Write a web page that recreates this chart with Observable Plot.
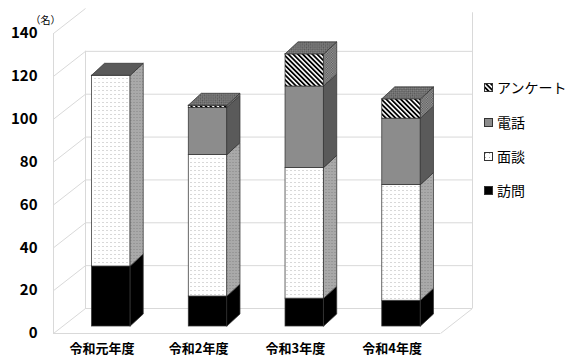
<!DOCTYPE html>
<html><head><meta charset="utf-8">
<script src="https://cdn.jsdelivr.net/npm/d3@7"></script>
<script src="https://cdn.jsdelivr.net/npm/@observablehq/plot@0.6"></script>
<style>
body{margin:0;background:#fff;}
#wrap{position:relative;width:566px;height:356px;overflow:hidden;font-family:"Noto Sans CJK JP","Noto Sans",sans-serif;}
#legend{position:absolute;left:484px;top:0;width:82px;height:356px;}
.item{position:absolute;left:0;height:20px;display:flex;align-items:center;font-size:14px;color:#000;white-space:nowrap;}
.item svg{margin-right:4px;flex:none;}
</style></head><body>
<svg width="0" height="0" style="position:absolute">
<defs>
<pattern id="dots" width="4" height="4" patternUnits="userSpaceOnUse"><rect width="4" height="4" fill="#fff"/><rect x="1" y="1" width="1" height="1" fill="#b0b0b0"/></pattern>
<pattern id="dotsSide" width="3" height="3" patternUnits="userSpaceOnUse"><rect width="3" height="3" fill="#a9a9a9"/><rect x="1" y="1" width="1" height="1" fill="#858585"/></pattern>
<pattern id="hatch" width="3.4" height="3.4" patternUnits="userSpaceOnUse" patternTransform="rotate(-45)"><rect width="3.4" height="3.4" fill="#fff"/><rect width="1.8" height="3.4" fill="#000"/></pattern>
<pattern id="check" width="3" height="3" patternUnits="userSpaceOnUse" patternTransform="rotate(45)"><rect width="3" height="3" fill="#8a8a8a"/><rect width="1.5" height="1.5" fill="#555"/><rect x="1.5" y="1.5" width="1.5" height="1.5" fill="#555"/></pattern>
<pattern id="checkSide" width="2.5" height="2.5" patternUnits="userSpaceOnUse"><rect width="2.5" height="2.5" fill="#9a9a9a"/><rect width="1.25" height="1.25" fill="#5a5a5a"/><rect x="1.25" y="1.25" width="1.25" height="1.25" fill="#5a5a5a"/></pattern>
</defs></svg>
<div id="wrap"><div id="legend"></div></div>
<script>
const categories = ["令和元年度", "令和2年度", "令和3年度", "令和4年度"];
const seriesNames = ["訪問", "面談", "電話", "アンケート"];
const houmon = [28, 14, 13, 12];
const mendan = [89, 66, 61, 54];
const denwa = [0, 22, 38, 31];
const anketo = [0, 1, 15, 9];
const yTicks = [0, 20, 40, 60, 80, 100, 120, 140];
const unitLabel = "（名）";

const seriesVals = [houmon, mendan, denwa, anketo];
const frontFill = ["#000000", "url(#dots)", "#8c8c8c", "url(#hatch)"];
const sideFill = ["#000000", "url(#dotsSide)", "#5a5a5a", "url(#checkSide)"];
const legendFill = ["#000000", "url(#dots)", "#8c8c8c", "url(#hatch)"];

// layout (pixels)
const X0 = 53, X1 = 440, Y0 = 333, Y1 = 33;
const kx = (X1 - X0) / 4, ky = (Y0 - Y1) / 140;
const BX = 9.5, BY = -7;          // bar plane offset
const WX = 32, WY = -25;          // back wall offset
const hw = 0.2, ddx = 13 / kx, ddy = 12 / ky; // bar half width, bar depth

const segs = [];
categories.forEach((c, i) => {
  let base = 0;
  seriesVals.forEach((vals, s) => {
    const v = vals[i];
    if (v > 0) segs.push({id: i + "-" + s, i, s, y1: base, y2: base + v});
    base += v;
  });
});
const sidePts = segs.flatMap(d => [
  {id: d.id, s: d.s, x: d.i + hw, lo: d.y1, hi: d.y2},
  {id: d.id, s: d.s, x: d.i + hw + ddx, lo: d.y1 + ddy, hi: d.y2 + ddy}
]);
const totals = categories.map((c, i) => seriesVals.reduce((a, v) => a + v[i], 0));
const topMarks = categories.map((c, i) => {
  const T = totals[i], xl = i - hw, xr = i + hw;
  const pts = [
    {x: xl, lo: T, hi: T},
    {x: xl + ddx, lo: T, hi: T + ddy},
    {x: xr, lo: T, hi: T + ddy},
    {x: xr + ddx, lo: T + ddy, hi: T + ddy}
  ];
  return Plot.area(pts, {x1: "x", y1: "lo", y2: "hi", fill: anketo[i] > 0 ? "url(#check)" : "#5a5a5a",
    stroke: "#333", strokeWidth: 0.75, dx: BX, dy: BY});
});

const grid = "#d9d9d9";
const marks = [
  // back wall gridlines
  Plot.ruleY(yTicks.filter(v => v <= 120), {y: d => d, x1: () => -0.5, x2: () => 3.5, dx: WX, dy: WY, stroke: grid}),
  // back wall verticals
  Plot.ruleX([-0.5], {x: d => d, y1: () => 0, y2: () => 120, dx: WX, dy: WY, stroke: grid}),
  Plot.ruleX([3.5], {x: d => d, y1: () => 0, y2: () => 138, dx: WX, dy: WY, stroke: grid}),
  // left wall diagonals
  Plot.link(yTicks, {x1: () => -0.5, y1: d => d, x2: () => -0.5 + WX / kx, y2: d => d - WY / ky, stroke: grid}),
  // front left vertical and floor
  Plot.ruleX([-0.5], {x: d => d, y1: () => 0, y2: () => 140, stroke: grid}),
  Plot.ruleY([0], {y: d => d, x1: () => -0.5, x2: () => 3.5, stroke: grid}),
  Plot.link([0], {x1: () => 3.5, y1: d => d, x2: () => 3.5 + WX / kx, y2: d => d - WY / ky, stroke: grid}),
  // bar fronts
  ...seriesNames.map((n, k) => Plot.rect(segs.filter(d => d.s === k), {
    x1: d => d.i - hw, x2: d => d.i + hw, y1: "y1", y2: "y2",
    fill: frontFill[k], stroke: "#333", strokeWidth: 0.75, dx: BX, dy: BY})),
  // bar sides
  ...seriesNames.map((n, k) => Plot.area(sidePts.filter(d => d.s === k), {
    x1: "x", y1: "lo", y2: "hi", z: "id",
    fill: sideFill[k], stroke: "#333", strokeWidth: 0.75, dx: BX, dy: BY})),
  ...topMarks,
  // y labels
  Plot.text(yTicks, {x: () => -0.5, y: d => d, text: d => String(d), textAnchor: "end", dx: -16,
    fontSize: 15, fontWeight: "bold", fill: "#000"}),
  // category labels
  Plot.text(categories, {x: (d, i) => i, y: () => 0, text: d => d, dy: 15, fontSize: 13, fontWeight: "bold", fill: "#000"}),
  // unit
  Plot.text([unitLabel], {x: () => -0.5, y: () => 140, text: d => d, dx: -8, dy: -13, fontSize: 10, fill: "#000"})
];

const chart = Plot.plot({
  width: 566, height: 356, margin: 0,
  x: {type: "linear", domain: [-0.5, 3.5], range: [X0, X1], axis: null},
  y: {type: "linear", domain: [0, 140], range: [Y0, Y1], axis: null},
  style: {background: "transparent", fontFamily: '"Noto Sans CJK JP", "Noto Sans", sans-serif', overflow: "visible"},
  marks
});
document.getElementById("wrap").prepend(chart);

// legend (top to bottom: アンケート, 電話, 面談, 訪問)
const legend = document.getElementById("legend");
const legendY = [87, 122, 156, 190];
[3, 2, 1, 0].forEach((k, j) => {
  const it = document.createElement("div");
  it.className = "item";
  it.style.top = (legendY[j] - 10) + "px";
  it.innerHTML = `<svg width="9" height="9"><rect x="0.5" y="0.5" width="8" height="8" fill="${legendFill[k]}" stroke="#333" stroke-width="1"/></svg><span>${seriesNames[k]}</span>`;
  legend.appendChild(it);
});
</script>
</body></html>
